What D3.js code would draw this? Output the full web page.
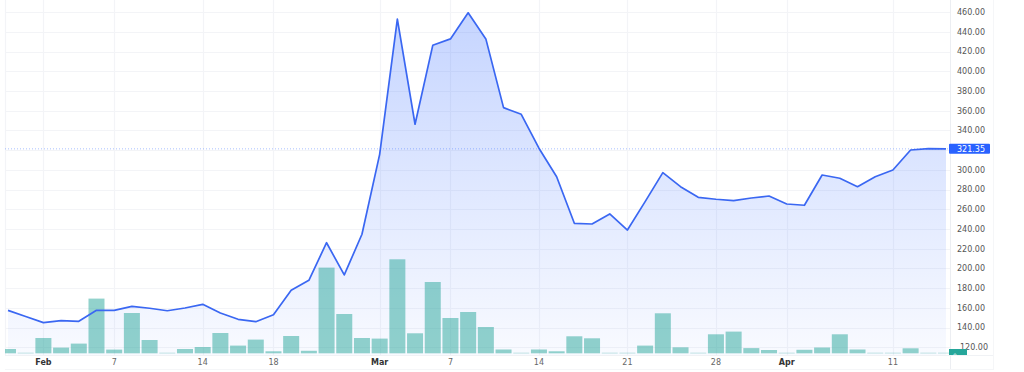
<!DOCTYPE html>
<html><head><meta charset="utf-8">
<script src="https://cdn.jsdelivr.net/npm/d3@7"></script>
<style>
html,body{margin:0;padding:0;background:#fff;}
svg{display:block;}
</style></head>
<body>
<svg id="chart" width="1024" height="372"></svg>
<script>
const dates = ["Jan 28","Jan 31","Feb 1","Feb 2","Feb 3","Feb 4","Feb 7","Feb 8","Feb 9","Feb 10","Feb 11","Feb 14","Feb 15","Feb 16","Feb 17","Feb 18","Feb 22","Feb 23","Feb 24","Feb 25","Feb 28","Mar 1","Mar 2","Mar 3","Mar 4","Mar 7","Mar 8","Mar 9","Mar 10","Mar 11","Mar 14","Mar 15","Mar 16","Mar 17","Mar 18","Mar 21","Mar 22","Mar 23","Mar 24","Mar 25","Mar 28","Mar 29","Mar 30","Mar 31","Apr 1","Apr 4","Apr 5","Apr 6","Apr 7","Apr 8","Apr 11","Apr 12","Apr 13","Apr 14"];
const price = [157.5,151.3,145,147,146.4,157.5,157.5,161.6,159.6,157.1,159.9,163.6,154.8,148.4,146,153.1,177.8,188,226.1,193.4,234.7,315.8,452.9,346.3,426.4,432.9,459.4,432.9,363.2,356.4,322,293,245.8,245.1,255.3,239,267.8,297.2,283,272.2,270.2,268.8,271.5,273.5,265.4,264.1,294.8,291.5,283,293.1,299.9,320.2,321.5,321.35];
const volume = [43,5,153,57,97,547,37,403,133,5,43,63,203,77,137,20,173,25,857,393,153,147,940,200,713,353,413,263,38,5,38,20,170,150,5,5,77,400,60,5,190,217,52,33,5,35,58,190,38,5,5,50,5,5];
const timeTicks = [{d:"Feb 1",label:"Feb",bold:true},{d:"Feb 7",label:"7"},{d:"Feb 14",label:"14"},{d:"Feb 18",label:"18"},{d:"Mar 1",label:"Mar",bold:true},{d:"Mar 7",label:"7"},{d:"Mar 14",label:"14"},{d:"Mar 21",label:"21"},{d:"Mar 28",label:"28"},{d:"Apr 1",label:"Apr",bold:true},{d:"Apr 11",label:"11"}];
const priceTicks = [140,160,180,200,220,240,260,280,300,340,360,380,400,420,440,460];
const gridTicks = [120,140,160,180,200,220,240,260,280,300,320,340,360,380,400,420,440,460];
const lastPrice = 321.35;
const lastVolumeLabel = "0";

const svg = d3.select("#chart");
const paneL = 5, paneR = 950, paneT = 0, paneB = 355, axisR = 993;

const x = d3.scaleLinear().domain([0, dates.length-1]).range([8, 946]);
const y = d3.scaleLinear().domain([120, 460]).range([347.3, 12.2]);
const yv = d3.scaleLinear().domain([0, 1000]).range([353.3, 253.3]);
const idx = d => dates.indexOf(d);

const defs = svg.append("defs");
defs.append("clipPath").attr("id","pane").append("rect")
  .attr("x",paneL).attr("y",paneT).attr("width",paneR-paneL).attr("height",paneB-paneT);
const grad = defs.append("linearGradient").attr("id","areaGrad")
  .attr("gradientUnits","userSpaceOnUse").attr("x1",0).attr("x2",0).attr("y1",y(460)).attr("y2",paneB);
grad.append("stop").attr("offset","0%").attr("stop-color","#2962ff").attr("stop-opacity",0.27);
grad.append("stop").attr("offset","100%").attr("stop-color","#2962ff").attr("stop-opacity",0.03);

// grid
const grid = svg.append("g");
grid.selectAll("line.h").data(gridTicks).join("line")
  .attr("x1",paneL).attr("x2",paneR).attr("y1",d=>Math.round(y(d))+0.5).attr("y2",d=>Math.round(y(d))+0.5)
  .attr("stroke","#f3f4f7").attr("stroke-width",1.2);
grid.selectAll("line.v").data(timeTicks).join("line")
  .attr("x1",d=>Math.round(x(idx(d.d)))+0.5).attr("x2",d=>Math.round(x(idx(d.d)))+0.5)
  .attr("y1",paneT).attr("y2",paneB)
  .attr("stroke","#f3f4f7").attr("stroke-width",1.2);
grid.append("line").attr("x1",paneL+0.5).attr("x2",paneL+0.5).attr("y1",0).attr("y2",paneB).attr("stroke","#f3f4f7").attr("stroke-width",1.2);

const pane = svg.append("g").attr("clip-path","url(#pane)");

// area
const area = d3.area().x((d,i)=>x(i)).y0(paneB).y1(d=>y(d));
pane.append("path").datum(price).attr("d",area).attr("fill","url(#areaGrad)");

// volume bars
pane.selectAll("rect.vol").data(volume).join("rect")
  .attr("x",(d,i)=>x(i)-8).attr("width",16)
  .attr("y",d=>yv(d)).attr("height",d=>yv(0)-yv(d))
  .attr("fill","#26a69a").attr("fill-opacity",0.5);

// price line dotted
svg.append("line").attr("x1",paneL).attr("x2",paneR).attr("y1",y(lastPrice)).attr("y2",y(lastPrice))
  .attr("stroke","#2962ff").attr("stroke-opacity",0.4).attr("stroke-dasharray","1,2").attr("stroke-width",1);

// line
const line = d3.line().x((d,i)=>x(i)).y(d=>y(d));
pane.append("path").datum(price).attr("d",line).attr("fill","none")
  .attr("stroke","#3a67f2").attr("stroke-width",1.7).attr("stroke-linejoin","round");

// axis borders
svg.append("line").attr("x1",paneR+0.5).attr("x2",paneR+0.5).attr("y1",0).attr("y2",370).attr("stroke","#eceef2");
svg.append("line").attr("x1",axisR+0.5).attr("x2",axisR+0.5).attr("y1",0).attr("y2",370).attr("stroke","#f5f6f8");
svg.append("line").attr("x1",paneL).attr("x2",axisR).attr("y1",355.5).attr("y2",355.5).attr("stroke","#f0f2f5");
svg.append("line").attr("x1",paneL).attr("x2",axisR).attr("y1",369.5).attr("y2",369.5).attr("stroke","#f5f6f8");

// price axis labels
const ax = svg.append("g").attr("font-family","DejaVu Sans, sans-serif").attr("font-size","8px").attr("fill","#555");
ax.selectAll("text").data(priceTicks).join("text")
  .attr("x",957).attr("y",d=>y(d)).attr("dy","0.35em").text(d=>d.toFixed(2));

// volume label (box sits under the 120.00 tick, as in the source)
svg.append("rect").attr("x",949).attr("y",349).attr("width",18).attr("height",6).attr("fill","#26a69a");
ax.append("text").attr("x",960).attr("y",y(120)-0.5).attr("dy","0.35em").text("120.00");
svg.append("text").attr("x",955).attr("y",357.5).attr("text-anchor","middle").attr("font-family","DejaVu Sans, sans-serif")
  .attr("font-size","6px").attr("fill","#fff").text(lastVolumeLabel);

// last price label
svg.append("rect").attr("x",949).attr("y",y(lastPrice)-5).attr("width",41).attr("height",10).attr("fill","#2962ff").attr("rx",1);
svg.append("text").attr("x",957).attr("y",y(lastPrice)).attr("dy","0.35em").attr("font-family","DejaVu Sans, sans-serif")
  .attr("font-size","8px").attr("fill","#fff").text(lastPrice.toFixed(2));

// time axis
svg.append("g").attr("font-family","DejaVu Sans, sans-serif").attr("font-size","8px")
  .selectAll("text").data(timeTicks).join("text")
  .attr("x",d=>x(idx(d.d))).attr("y",362).attr("dy","0.35em").attr("text-anchor","middle")
  .attr("font-weight",d=>d.bold?"bold":"normal").attr("fill",d=>d.bold?"#333":"#666").text(d=>d.label);
</script>
</body></html>
